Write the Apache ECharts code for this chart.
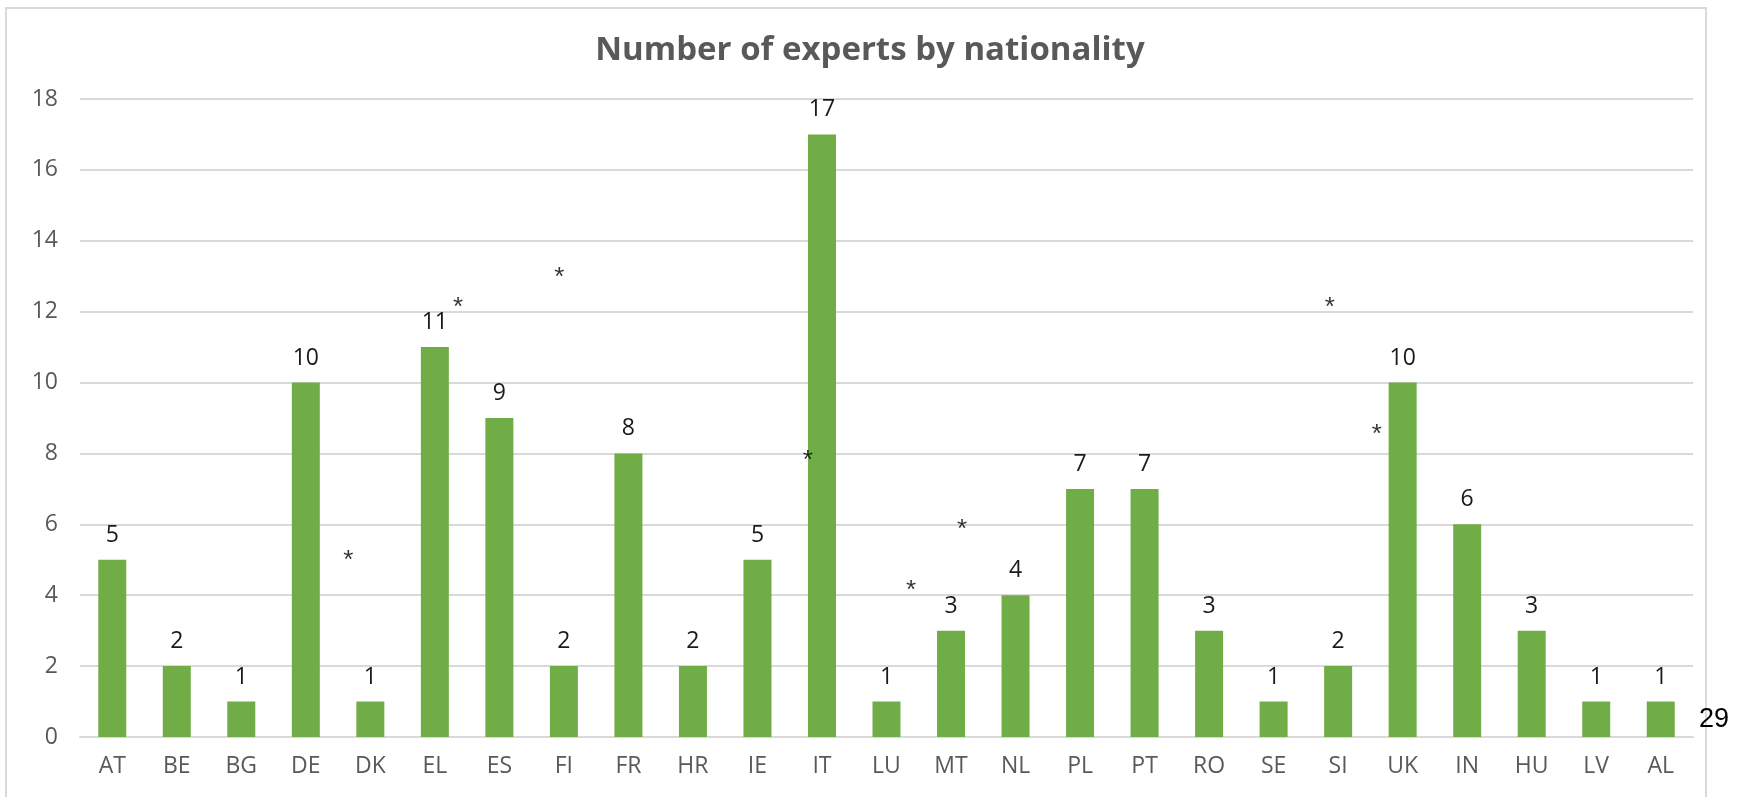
<!DOCTYPE html>
<html>
<head>
<meta charset="utf-8">
<script src="https://cdn.jsdelivr.net/npm/echarts@6/dist/echarts.min.js"></script>
<style>
  html, body { margin: 0; padding: 0; background: #fff; }
  #chart { width: 1740px; height: 797px; }
</style>
</head>
<body>
<div id="chart"></div>
<script>
  // countries and counts
  const countries = ['AT', 'BE', 'BG', 'DE', 'DK', 'EL', 'ES', 'FI', 'FR', 'HR', 'IE', 'IT', 'LU',
    'MT', 'NL', 'PL', 'PT', 'RO', 'SE', 'SI', 'UK', 'IN', 'HU', 'LV', 'AL'];
  const experts = [5, 2, 1, 10, 1, 11, 9, 2, 8, 2, 5, 17, 1, 3, 4, 7, 7, 3, 1, 2, 10, 6, 3, 1, 1];
  const yTicks = [0, 2, 4, 6, 8, 10, 12, 14, 16, 18];

  // stray asterisks in the original, [category position, value]
  const asterisks = [
    [3.66, 5.13], [5.36, 12.27], [6.93, 13.12], [11.71, 18.53], [10.78, 7.95],
    [12.38, 4.29], [13.17, 6.01], [18.87, 12.27], [19.6, 8.7]
  ];
  const sideNote = '29';

  const init = () => {
    var option = {
      animation: false,
      title: {
        text: 'Number of experts by nationality',
        left: 'center',
        top: 29,
        textStyle: {
          color: '#595959',
          fontFamily: 'Open Sans',
          fontWeight: 'bold',
          fontSize: 33
        }
      },
      grid: {
        left: 80,
        right: 47,
        top: 99,
        bottom: 60
      },
      xAxis: [
        {
          type: 'category',
          data: countries,
          axisLine: { lineStyle: { color: '#d9d9d9', width: 2 } },
          axisTick: { show: false },
          axisLabel: {
            color: '#595959',
            fontFamily: 'Open Sans',
            fontSize: 23,
            margin: 18
          }
        },
        {
          type: 'value',
          min: -0.5,
          max: countries.length - 0.5,
          show: false
        }
      ],
      yAxis: {
        type: 'value',
        min: yTicks[0],
        max: yTicks[yTicks.length - 1],
        interval: 2,
        axisLine: { show: false },
        axisTick: { show: false },
        axisLabel: {
          color: '#595959',
          fontFamily: 'Open Sans',
          fontSize: 23,
          margin: 22
        },
        splitLine: { lineStyle: { color: '#d9d9d9', width: 2 } }
      },
      series: [
        {
          type: 'bar',
          data: experts,
          barWidth: 28,
          itemStyle: { color: '#70AD47' },
          label: {
            show: true,
            position: 'top',
            distance: 13,
            color: '#1a1a1a',
            fontFamily: 'Open Sans',
            fontSize: 23
          }
        },
        {
          type: 'scatter',
          xAxisIndex: 1,
          data: asterisks,
          symbolSize: 0,
          silent: true,
          label: {
            show: true,
            position: 'inside',
            formatter: '*',
            color: '#000',
            fontFamily: 'Liberation Sans',
            fontSize: 26,
            offset: [0, 6]
          }
        }
      ],
      graphic: [
        {
          type: 'rect',
          shape: { x: 6, y: 8, width: 1700, height: 820 },
          style: { fill: 'none', stroke: '#d9d9d9', lineWidth: 2 },
          silent: true
        },
        {
          type: 'text',
          left: 1699,
          top: 706,
          style: {
            text: sideNote,
            fill: '#000',
            font: '27px "Liberation Sans"'
          }
        }
      ]
    }
    var myChart = echarts.init(document.getElementById('chart'));
    myChart.setOption(option);
  }

  init();
</script>
</body>
</html>
